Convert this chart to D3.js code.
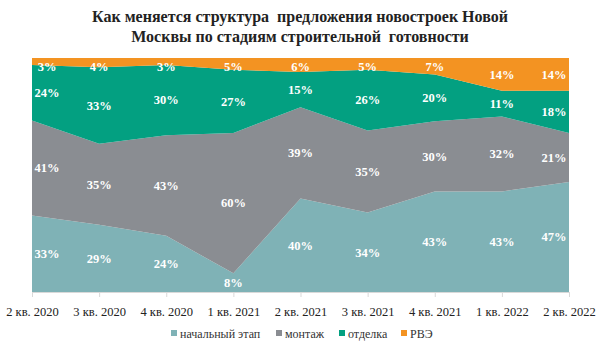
<!DOCTYPE html>
<html><head><meta charset="utf-8">
<script src="https://cdn.jsdelivr.net/npm/d3@7"></script>
<style>body{margin:0;background:#fff}svg{display:block}text{white-space:pre}</style>
</head><body>
<script>
const categories = ["2 кв. 2020","3 кв. 2020","4 кв. 2020","1 кв. 2021","2 кв. 2021","3 кв. 2021","4 кв. 2021","1 кв. 2022","2 кв. 2022"];
const seriesNames = ["начальный этап","монтаж","отделка","РВЭ"];
const nachalny = [33,29,24,8,40,34,43,43,47];
const montazh  = [41,35,43,60,39,35,30,32,21];
const otdelka  = [24,33,30,27,15,26,20,11,18];
const rve      = [3,4,3,5,6,5,7,14,14];
const colors = ["#7fb2b6","#8a8d92","#03a081","#f39322"];

const W=600,H=350, pLeft=32, pRight=569, pTop=58, pBottom=292;
const svg=d3.select("body").append("svg").attr("width",W).attr("height",H);
const font="'Liberation Serif','Times New Roman',serif";

svg.append("text").attr("x",300).attr("y",22).attr("text-anchor","middle")
  .attr("font-family",font).attr("font-weight","bold").attr("font-size",16).attr("fill","#222")
  .text("Как меняется структура  предложения новостроек Новой");
svg.append("text").attr("x",300).attr("y",42).attr("text-anchor","middle")
  .attr("font-family",font).attr("font-weight","bold").attr("font-size",16).attr("fill","#222")
  .text("Москвы по стадиям строительной  готовности");

const rows = categories.map((c,i)=>{
  const t=nachalny[i]+montazh[i]+otdelka[i]+rve[i];
  return {cat:c, s0:nachalny[i]/t, s1:montazh[i]/t, s2:otdelka[i]/t, s3:rve[i]/t,
          v:[nachalny[i],montazh[i],otdelka[i],rve[i]]};
});
const keys=["s0","s1","s2","s3"];
const stack=d3.stack().keys(keys)(rows);

const x=d3.scalePoint().domain(categories).range([pLeft,pRight]);
const y=d3.scaleLinear().domain([0,1]).range([pBottom,pTop]);

const area=d3.area().x(d=>x(d.data.cat)).y0(d=>y(d[0])).y1(d=>y(d[1]));
svg.append("g").selectAll("path").data(stack).join("path")
  .attr("d",area).attr("fill",(d,i)=>colors[i]);

// axis
const ax=svg.append("g").attr("transform",`translate(0,${pBottom})`)
  .call(d3.axisBottom(x).tickSize(5).tickSizeOuter(0));
ax.select(".domain").attr("stroke","#d9d9d9");
ax.selectAll(".tick line").attr("stroke","#d9d9d9");
ax.selectAll(".tick text").attr("font-family",font).attr("font-size",12.5).attr("fill","#222").attr("dy","1.25em");

// labels
stack.forEach((s,si)=>{
  s.forEach((d,i)=>{
    let lx=x(d.data.cat);
    if(i===0) lx+=15;
    if(i===categories.length-1) lx-=15;
    let ly=(y(d[0])+y(d[1]))/2;
    ly=Math.max(ly, pTop+9);
    svg.append("text").attr("x",lx).attr("y",ly).attr("dy","0.35em")
      .attr("text-anchor","middle").attr("font-family",font).attr("font-weight","bold")
      .attr("font-size",12.5).attr("fill","#fff").text(d.data.v[si]+"%");
  });
});

// legend
const legX=[171,276,339,401];
seriesNames.forEach((n,i)=>{
  svg.append("rect").attr("x",legX[i]).attr("y",330).attr("width",6).attr("height",6).attr("fill",colors[i]);
  svg.append("text").attr("x",legX[i]+9).attr("y",337.5).attr("font-family",font).attr("font-size",12)
    .attr("fill","#333").text(n);
});
</script>
</body></html>
